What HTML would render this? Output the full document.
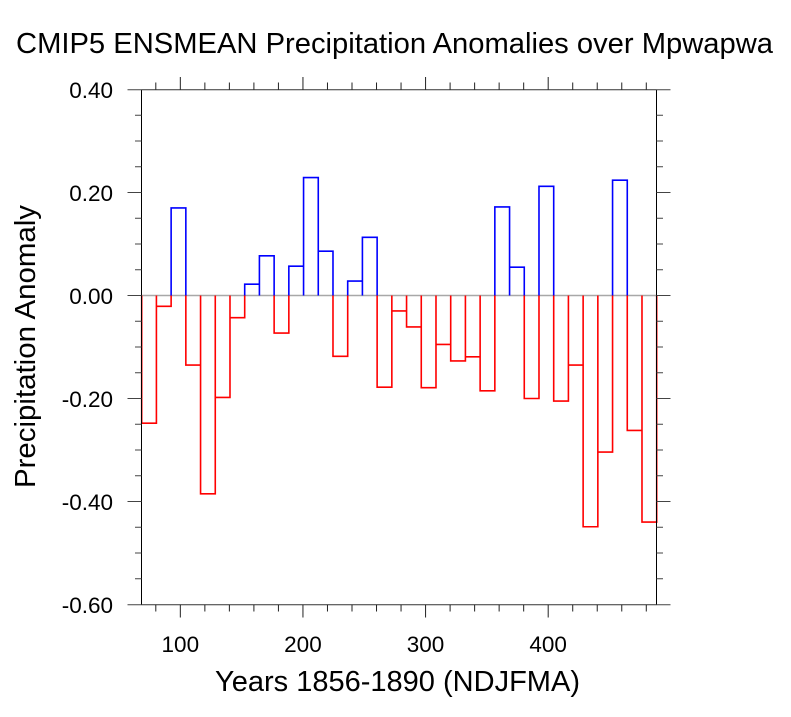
<!DOCTYPE html>
<html><head><meta charset="utf-8"><style>
html,body{margin:0;padding:0;background:#fff;}
svg{display:block;}
text{font-family:"Liberation Sans",Arial,sans-serif;fill:#000;}
</style></head><body>
<svg width="791" height="717" viewBox="0 0 791 717" xmlns="http://www.w3.org/2000/svg">
<rect width="791" height="717" fill="#fff"/>
<text x="394.5" y="53" font-size="29" text-anchor="middle" textLength="757" lengthAdjust="spacingAndGlyphs">CMIP5 ENSMEAN Precipitation Anomalies over Mpwapwa</text>

<!-- zero reference line -->
<line x1="141.7" y1="295.5" x2="656.7" y2="295.5" stroke="#a8a8a8" stroke-width="1.5"/>

<!-- bars -->
<g fill="none" stroke-width="1.6" stroke-linejoin="miter">
<path stroke="#ff0000" d="
M141.7,295.5 V423.22 H156.41 V295.5
M156.41,295.5 V306.32 H171.13 V295.5
M185.84,295.5 V365.03 H200.56 V295.5
M200.56,295.5 V493.78 H215.27 V295.5
M215.27,295.5 V397.47 H229.99 V295.5
M229.99,295.5 V317.65 H244.70 V295.5
M274.13,295.5 V333.10 H288.84 V295.5
M332.99,295.5 V356.27 H347.70 V295.5
M377.13,295.5 V387.17 H391.84 V295.5
M391.84,295.5 V310.95 H406.56 V295.5
M406.56,295.5 V326.92 H421.27 V295.5
M421.27,295.5 V387.69 H435.99 V295.5
M435.99,295.5 V344.43 H450.70 V295.5
M450.70,295.5 V360.91 H465.41 V295.5
M465.41,295.5 V356.79 H480.13 V295.5
M480.13,295.5 V390.78 H494.84 V295.5
M524.27,295.5 V398.50 H538.99 V295.5
M553.70,295.5 V401.08 H568.41 V295.5
M568.41,295.5 V365.03 H583.13 V295.5
M583.13,295.5 V526.74 H597.84 V295.5
M597.84,295.5 V452.06 H612.56 V295.5
M627.27,295.5 V430.43 H641.99 V295.5
M641.99,295.5 V522.10 H656.70 V295.5
"/>
<path stroke="#0000ff" d="
M171.13,295.5 V207.95 H185.84 V295.5
M244.70,295.5 V284.17 H259.41 V295.5
M259.41,295.5 V255.85 H274.13 V295.5
M288.84,295.5 V266.15 H303.56 V295.5
M303.56,295.5 V177.57 H318.27 V295.5
M318.27,295.5 V251.21 H332.99 V295.5
M347.70,295.5 V281.08 H362.41 V295.5
M362.41,295.5 V237.30 H377.13 V295.5
M494.84,295.5 V206.92 H509.56 V295.5
M509.56,295.5 V267.18 H524.27 V295.5
M538.99,295.5 V186.32 H553.70 V295.5
M612.56,295.5 V180.14 H627.27 V295.5
"/>
</g>

<!-- frame -->
<g stroke="#000" stroke-width="1" fill="none">
<line x1="141.5" y1="89.5" x2="141.5" y2="604.5"/>
<line x1="656.5" y1="89.5" x2="656.5" y2="604.5"/>
<line x1="141.5" y1="89.8" x2="656.5" y2="89.8" stroke="#333"/>
<line x1="141.5" y1="604.8" x2="656.5" y2="604.8" stroke="#333"/>
</g>

<!-- y ticks -->
<g stroke="#444" stroke-width="1">
<!-- major left -->
<path d="M127.5,89.8H141.5 M127.5,192.5H141.5 M127.5,295.5H141.5 M127.5,398.5H141.5 M127.5,501.5H141.5 M127.5,604.8H141.5"/>
<!-- major right -->
<path d="M656.5,89.8H670.5 M656.5,192.5H670.5 M656.5,295.5H670.5 M656.5,398.5H670.5 M656.5,501.5H670.5 M656.5,604.8H670.5"/>
<!-- minor left -->
<path d="M135,115.25H141.5 M135,141H141.5 M135,166.75H141.5 M135,218.25H141.5 M135,244H141.5 M135,269.75H141.5 M135,321.25H141.5 M135,347H141.5 M135,372.75H141.5 M135,424.25H141.5 M135,450H141.5 M135,475.75H141.5 M135,527.25H141.5 M135,553H141.5 M135,578.75H141.5"/>
<!-- minor right -->
<path d="M656.5,115.25H663 M656.5,141H663 M656.5,166.75H663 M656.5,218.25H663 M656.5,244H663 M656.5,269.75H663 M656.5,321.25H663 M656.5,347H663 M656.5,372.75H663 M656.5,424.25H663 M656.5,450H663 M656.5,475.75H663 M656.5,527.25H663 M656.5,553H663 M656.5,578.75H663"/>
</g>

<!-- x ticks -->
<g stroke="#222" stroke-width="1">
<path d="M180.33,89.5V77 M302.95,89.5V77 M425.57,89.5V77 M548.19,89.5V77"/>
<path d="M180.33,604.5V617.5 M302.95,604.5V617.5 M425.57,604.5V617.5 M548.19,604.5V617.5"/>
<path d="M155.8,89.5V82.5 M204.86,89.5V82.5 M229.38,89.5V82.5 M253.9,89.5V82.5 M278.43,89.5V82.5 M327.47,89.5V82.5 M352,89.5V82.5 M376.52,89.5V82.5 M401.05,89.5V82.5 M450.1,89.5V82.5 M474.62,89.5V82.5 M499.14,89.5V82.5 M523.67,89.5V82.5 M572.72,89.5V82.5 M597.24,89.5V82.5 M621.76,89.5V82.5 M646.29,89.5V82.5"/>
<path d="M155.8,604.5V611.5 M204.86,604.5V611.5 M229.38,604.5V611.5 M253.9,604.5V611.5 M278.43,604.5V611.5 M327.47,604.5V611.5 M352,604.5V611.5 M376.52,604.5V611.5 M401.05,604.5V611.5 M450.1,604.5V611.5 M474.62,604.5V611.5 M499.14,604.5V611.5 M523.67,604.5V611.5 M572.72,604.5V611.5 M597.24,604.5V611.5 M621.76,604.5V611.5 M646.29,604.5V611.5"/>
</g>

<!-- y tick labels -->
<g font-size="22.5" text-anchor="end">
<text x="113" y="98">0.40</text>
<text x="113" y="201">0.20</text>
<text x="113" y="304">0.00</text>
<text x="113" y="407">-0.20</text>
<text x="113" y="510">-0.40</text>
<text x="113" y="613">-0.60</text>
</g>

<!-- x tick labels -->
<g font-size="22.5" text-anchor="middle">
<text x="180.33" y="652">100</text>
<text x="302.95" y="652">200</text>
<text x="425.57" y="652">300</text>
<text x="548.19" y="652">400</text>
</g>

<!-- axis titles -->
<text x="397.5" y="691" font-size="28.8" text-anchor="middle" textLength="365" lengthAdjust="spacingAndGlyphs">Years 1856-1890 (NDJFMA)</text>
<text transform="translate(35,346.5) rotate(-90)" x="0" y="0" font-size="28.8" text-anchor="middle" textLength="283" lengthAdjust="spacingAndGlyphs">Precipitation Anomaly</text>
</svg>
</body></html>
